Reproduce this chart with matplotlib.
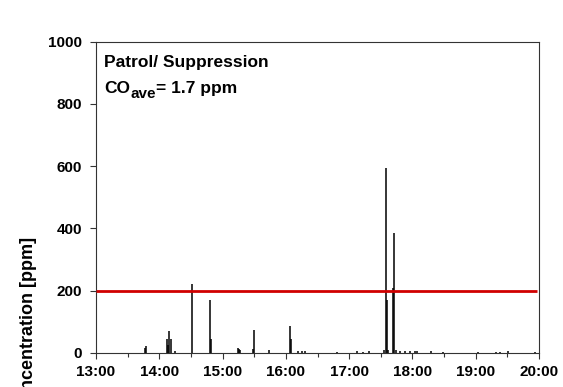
import matplotlib
matplotlib.use("Agg")
import matplotlib.pyplot as plt
from matplotlib.ticker import FuncFormatter, MultipleLocator
from matplotlib.transforms import offset_copy
import numpy as np

plt.rcParams['font.family'] = ['Liberation Sans', 'DejaVu Sans']
plt.rcParams['font.weight'] = 'bold'

# CO readings during patrol / suppression (clock time in decimal hours, ppm)
time_h = [13.78, 13.79, 14.127, 14.145, 14.158, 14.18, 14.248, 14.512,
          14.796, 14.812, 15.239, 15.255, 15.27, 15.485, 15.501, 15.733,
          16.07, 16.086, 16.19, 16.255, 16.30, 16.81, 17.12, 17.22, 17.32,
          17.55, 17.58, 17.60, 17.61, 17.685, 17.708, 17.74, 17.80, 17.88,
          17.96, 18.04, 18.07, 18.30, 18.49, 19.04, 19.32, 19.38, 19.51, 19.94]
co_ppm = [15, 20, 43, 25, 69, 43, 5, 221,
          169, 43, 16, 13, 10, 12, 73, 8,
          87, 43, 4, 4, 4, 3, 7, 3, 4,
          8, 595, 169, 10, 207, 384, 8, 4, 4,
          4, 6, 7, 4, 3, 3, 3, 3, 4, 3]

co_limit = 200
co_ave = 1.7
hour_ticks = [13, 14, 15, 16, 17, 18, 19, 20]

fig = plt.figure(figsize=(5.63, 3.87), dpi=100)
ax = fig.add_axes([0.1705, 0.0886, 0.7869, 0.8037])

ax.vlines(time_h, 0, co_ppm, colors='black', linewidth=1.1)
ax.hlines(co_limit, 13, 19.97, colors='#d00000', linewidth=2.0, zorder=3)

ax.set_xlim(13, 20)
ax.set_ylim(0, 1000)
ax.set_xticks(hour_ticks)
ax.xaxis.set_minor_locator(MultipleLocator(0.5))
ax.xaxis.set_major_formatter(FuncFormatter(lambda v, p: f"{int(round(v))}:00"))
ax.yaxis.set_major_locator(MultipleLocator(200))

ax.tick_params(axis='both', which='major', direction='out', length=4.5,
               width=0.8, labelsize=11, pad=5.5, color='#333333')
ax.tick_params(axis='x', which='minor', direction='out', length=3,
               width=0.8, color='#333333')
ax.tick_params(axis='x', pad=4.5)
for lab in ax.get_xticklabels() + ax.get_yticklabels():
    lab.set_fontweight('bold')

for sp in ax.spines.values():
    sp.set_linewidth(0.8)
    sp.set_color('#333333')

# title block: site description and mean CO, with a manual subscript
ax.text(0.018, 0.958, "Patrol/ Suppression", transform=ax.transAxes,
        ha='left', va='top', fontsize=12.5, fontweight='bold')
co = ax.text(0.018, 0.835, "CO", transform=ax.transAxes,
             ha='left', va='baseline', fontsize=12.5, fontweight='bold')
fig.canvas.draw()
renderer = fig.canvas.get_renderer()
w = co.get_window_extent(renderer).width
sub = ax.text(0.018, 0.835, "ave",
              transform=offset_copy(ax.transAxes, fig, x=w + 0.5, y=-5, units='dots'),
              ha='left', va='baseline', fontsize=11, fontweight='bold')
w2 = sub.get_window_extent(renderer).width
ax.text(0.018, 0.835, f"= {co_ave} ppm",
        transform=offset_copy(ax.transAxes, fig, x=w + w2 + 0.5, y=0, units='dots'),
        ha='left', va='baseline', fontsize=12.5, fontweight='bold')

fig.text(28.5 / 563, (387 - 237) / 387, "CO Concentration [ppm]",
         rotation=90, ha='center', va='top', fontsize=13, fontweight='bold')

fig.savefig("out.png", dpi=100)
